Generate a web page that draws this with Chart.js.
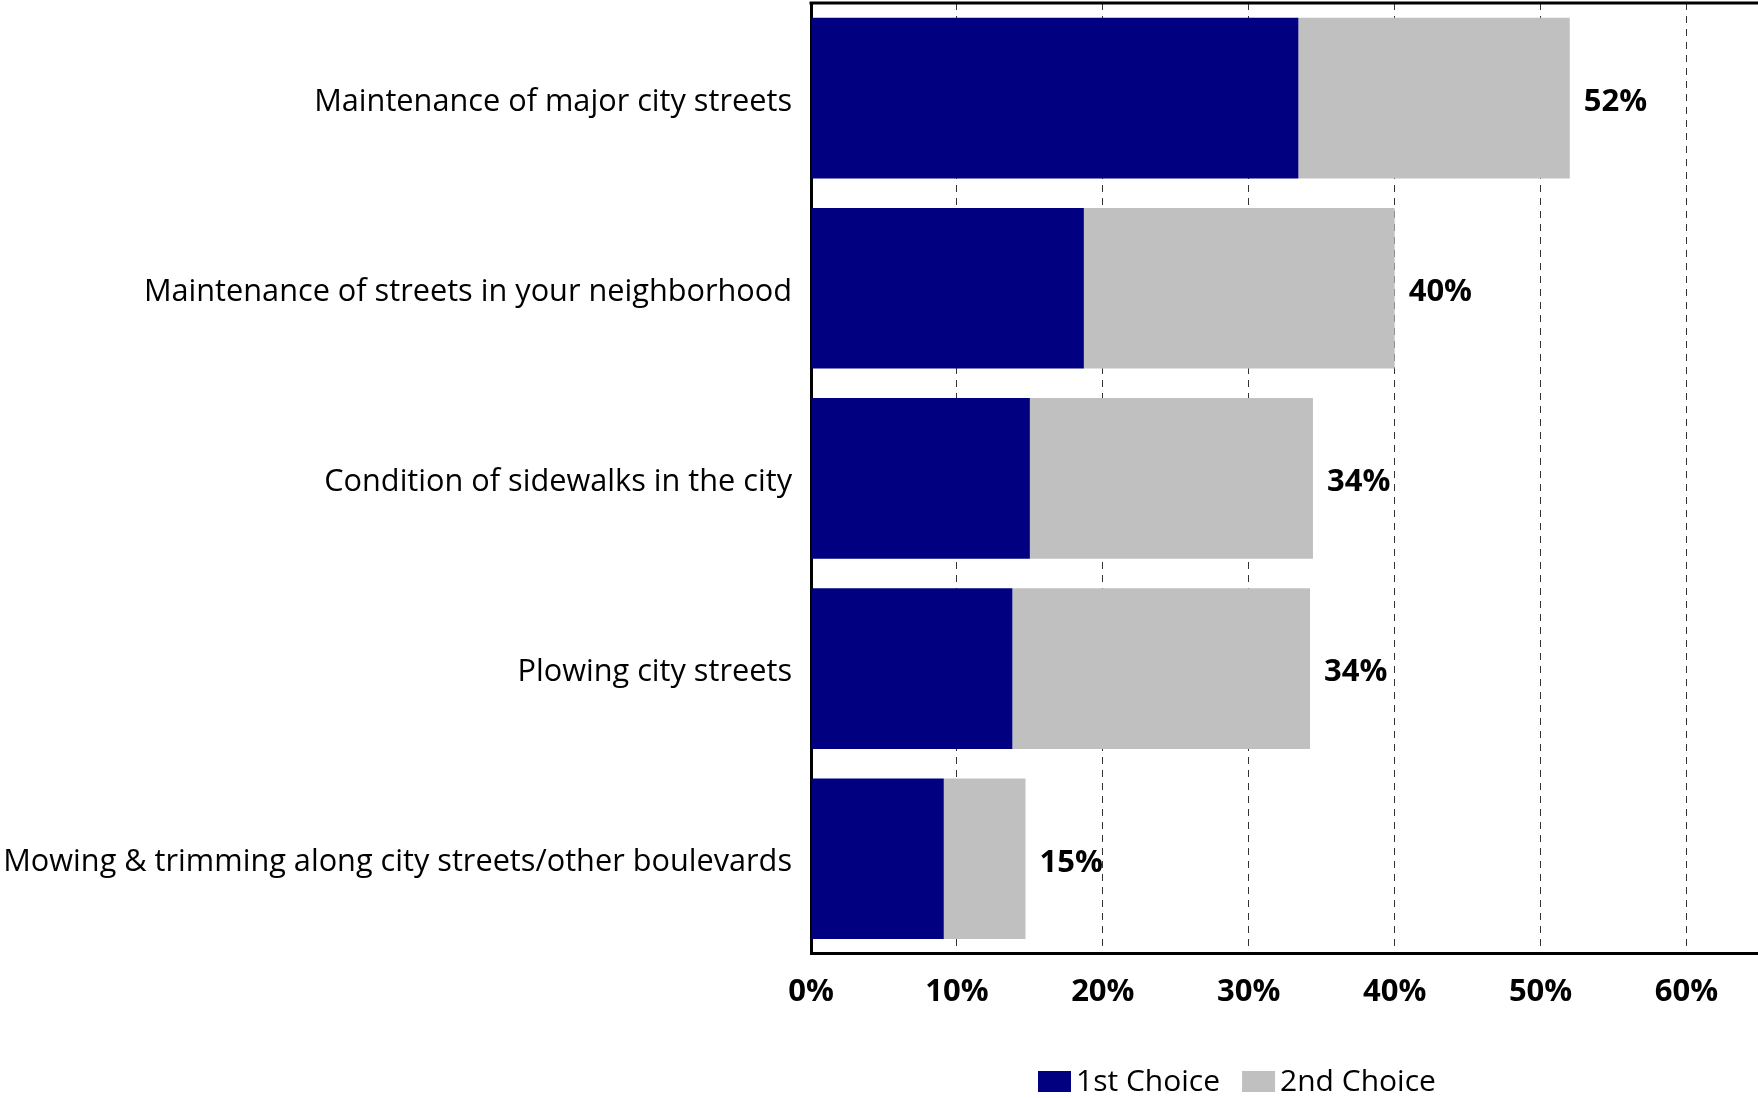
<!DOCTYPE html>
<html>
<head>
<meta charset="utf-8">
<script src="https://cdn.jsdelivr.net/npm/chart.js@4/dist/chart.umd.min.js"></script>
<style>
  html, body { margin: 0; padding: 0; background: #fff; overflow: hidden; }
  #wrap { width: 1758px; height: 1098px; position: relative; }
</style>
</head>
<body>
<div id="wrap"><canvas id="chart"></canvas></div>
<script>
const categories = [
    'Maintenance of major city streets',
    'Maintenance of streets in your neighborhood',
    'Condition of sidewalks in the city',
    'Plowing city streets',
    'Mowing & trimming along city streets/other boulevards'
];
const seriesNames = ['1st Choice', '2nd Choice'];
const firstChoice = [33.4, 18.7, 15.0, 13.8, 9.1];
const secondChoice = [18.6, 21.3, 19.4, 20.4, 5.6];
const xTicks = [0, 10, 20, 30, 40, 50, 60];

const FONT = '"Open Sans", Lato, sans-serif';
const navy = '#000080';
const grey = '#C0C0C0';

// total at the end of each stacked bar
const totalLabels = {
    id: 'totalLabels',
    afterDatasetsDraw(chart) {
        const ctx = chart.ctx;
        const meta = chart.getDatasetMeta(chart.data.datasets.length - 1);
        ctx.save();
        ctx.font = 'bold 31px ' + FONT;
        ctx.fillStyle = '#000';
        ctx.textAlign = 'left';
        ctx.textBaseline = 'middle';
        meta.data.forEach((bar, i) => {
            const total = firstChoice[i] + secondChoice[i];
            ctx.fillText(Math.round(total) + '%', bar.x + 14, bar.y + 4);
        });
        ctx.restore();
    }
};

// top edge of the plot frame
const frameTop = {
    id: 'frameTop',
    afterDraw(chart) {
        const { ctx, chartArea } = chart;
        ctx.save();
        ctx.strokeStyle = '#000';
        ctx.lineWidth = 3;
        ctx.beginPath();
        ctx.moveTo(chartArea.left - 1.5, chartArea.top);
        ctx.lineTo(chartArea.right, chartArea.top);
        ctx.stroke();
        ctx.restore();
    }
};

// legend row under the axis
const bottomLegend = {
    id: 'bottomLegend',
    afterDraw(chart, args, opts) {
        const ctx = chart.ctx;
        ctx.save();
        ctx.font = '30px ' + FONT;
        ctx.textBaseline = 'middle';
        ctx.textAlign = 'left';
        let x = opts.x;
        const y = opts.y;
        chart.data.datasets.forEach(ds => {
            ctx.fillStyle = ds.backgroundColor;
            ctx.fillRect(x, y - 10, 33, 21);
            x += 33 + 5;
            ctx.fillStyle = '#000';
            ctx.fillText(ds.label, x, y + 1);
            x += ctx.measureText(ds.label).width + 22;
        });
        ctx.restore();
    }
};

new Chart(document.getElementById('chart'), {
    type: 'bar',
    data: {
        labels: categories,
        datasets: [
            { label: seriesNames[0], data: firstChoice, backgroundColor: navy },
            { label: seriesNames[1], data: secondChoice, backgroundColor: grey }
        ]
    },
    options: {
        indexAxis: 'y',
        responsive: true,
        maintainAspectRatio: false,
        animation: false,
        layout: { padding: { top: 3, bottom: 67, left: 0, right: 0 } },
        datasets: { bar: { categoryPercentage: 1, barPercentage: 0.845 } },
        scales: {
            x: {
                stacked: true,
                min: 0,
                max: 64.9,
                afterBuildTicks: s => { s.ticks = xTicks.map(v => ({ value: v })); },
                ticks: {
                    includeBounds: false,
                    padding: 20,
                    color: '#000',
                    font: { family: FONT, size: 31, weight: 'bold' },
                    callback: v => v + '%'
                },
                grid: { color: '#333', lineWidth: 1, drawTicks: false },
                border: { display: true, color: '#000', width: 3, dash: [7, 6] }
            },
            y: {
                stacked: true,
                afterFit: s => {
                    s.width = 811;
                    s.paddingTop = 0;
                    s.paddingBottom = 0;
                },
                ticks: {
                    padding: 19,
                    labelOffset: 4,
                    color: '#000',
                    font: { family: FONT, size: 30.7 }
                },
                grid: { display: false, drawTicks: false },
                border: { display: true, color: '#000', width: 3 }
            }
        },
        plugins: {
            legend: { display: false },
            tooltip: { enabled: false },
            bottomLegend: { x: 1038, y: 1081 }
        }
    },
    plugins: [totalLabels, frameTop, bottomLegend]
});
</script>
</body>
</html>
